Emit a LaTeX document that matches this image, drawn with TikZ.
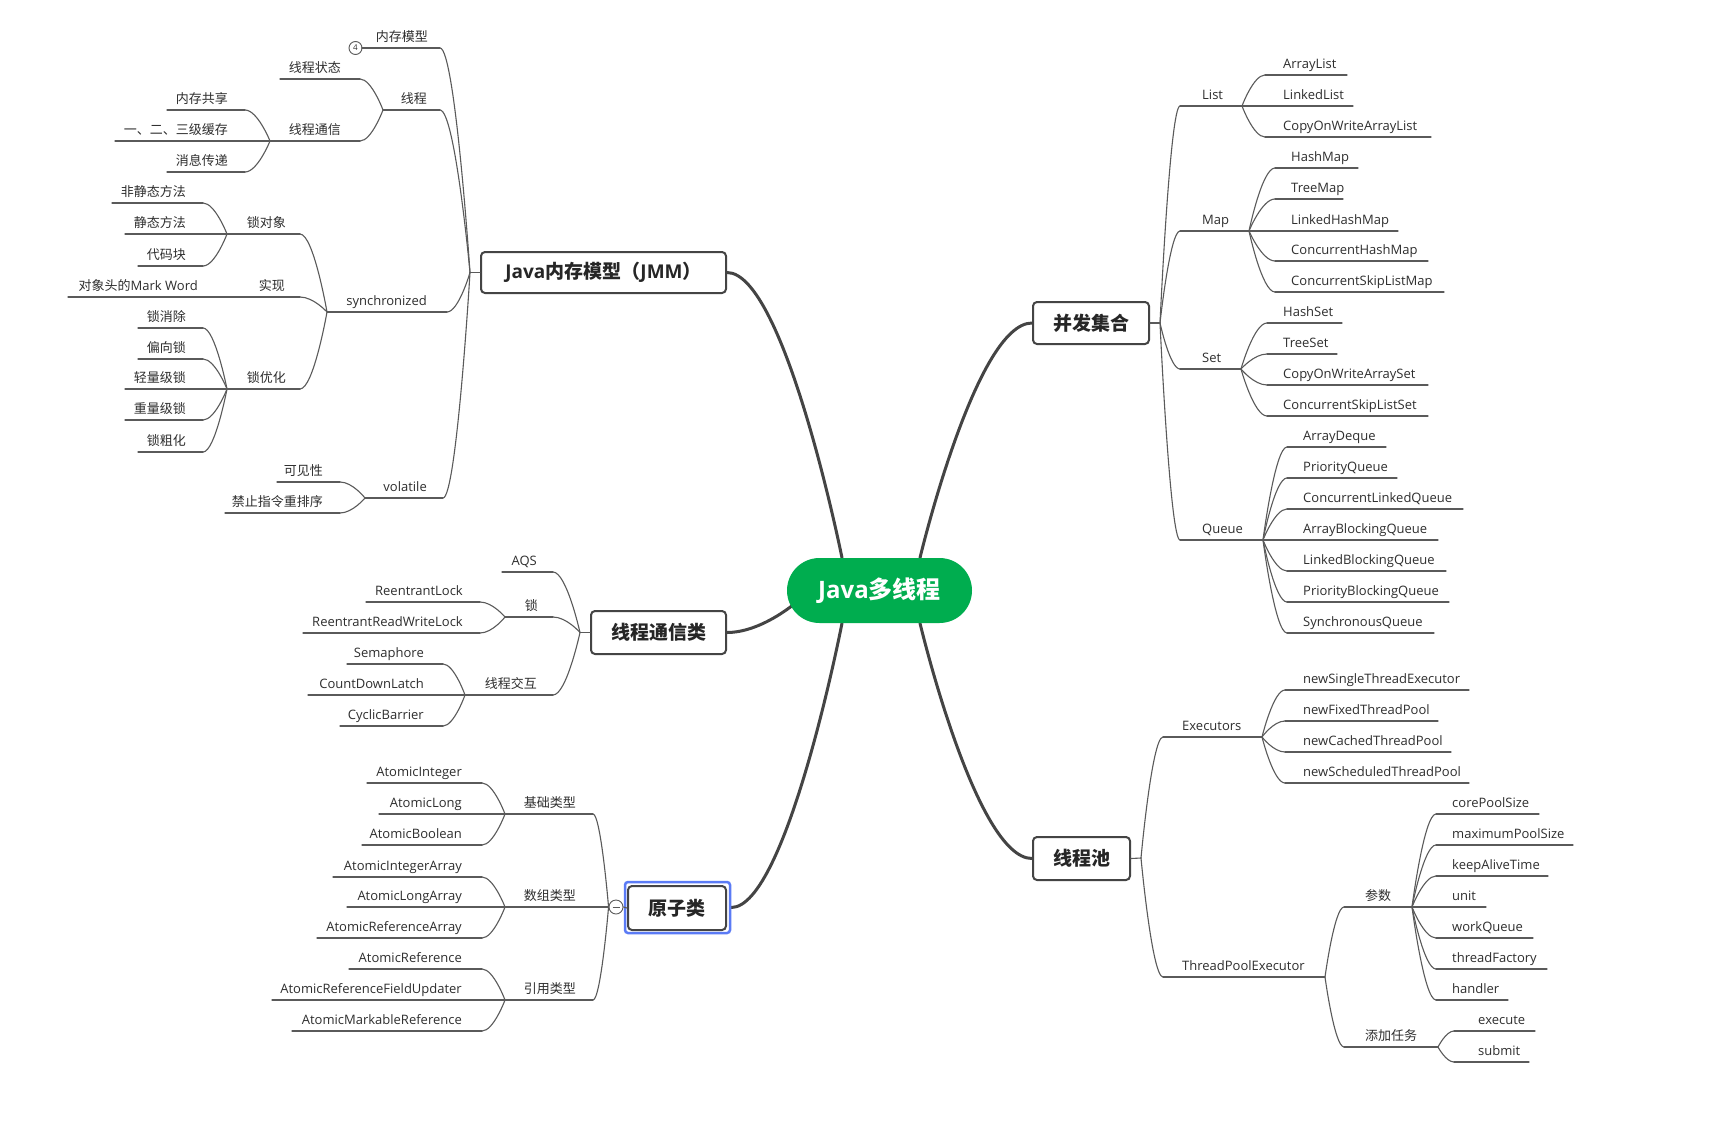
\documentclass[tikz,border=0pt]{standalone}
\usepackage{fontspec}
\setmainfont{Open Sans}
\newfontfamily\zh{Noto Sans CJK SC}
\usetikzlibrary{calc,backgrounds}

\definecolor{ink}{HTML}{2E2E2E}
\definecolor{branch}{HTML}{5A5A5A}
\definecolor{trunk}{HTML}{444444}
\definecolor{rootgreen}{HTML}{00AD4F}
\definecolor{selblue}{HTML}{5B7BF5}

\tikzset{
  uline/.style={draw=branch, line width=1.1pt, line cap=round},
  twig/.style={draw=branch, line width=1.1pt, line cap=round},
  trunkline/.style={draw=trunk, line width=3pt, line cap=round},
  lbl/.style={inner sep=0pt, text=ink, font=\fontsize{13}{15}\selectfont},
  topic/.style={draw=trunk, line width=2pt, rounded corners=4pt, fill=white,
    text=black!85, inner sep=0pt, font=\fontsize{19}{22}\selectfont\bfseries},
  rootnode/.style={fill=rootgreen, text=white, rounded corners=32.5pt, inner sep=0pt,
    minimum width=185pt, minimum height=65pt, font=\fontsize{24}{28}\selectfont\bfseries},
  selbox/.style={draw=selblue, line width=2.5pt, rounded corners=3pt, inner sep=0pt},
  knob/.style={circle, draw=branch, line width=0.9pt, fill=white, inner sep=0pt,
    minimum size=13pt, text=ink, font=\fontsize{8}{8}\selectfont},
}

% left-hand topic: outer end, inner end, underline y, text right edge, text
\newcommand\Lnode[6]{%
  \coordinate (#1-o) at (#2,#4);
  \coordinate (#1-i) at (#3,#4);
  \draw[uline] (#1-o) -- (#1-i);
  \node[lbl, anchor=base east] (#1) at (#5,#4-6.5) {#6};}
% right-hand topic: inner end, outer end, underline y, text left edge, text
\newcommand\Rnode[6]{%
  \coordinate (#1-i) at (#2,#4);
  \coordinate (#1-o) at (#3,#4);
  \draw[uline] (#1-i) -- (#1-o);
  \node[lbl, anchor=base west] (#1) at (#5,#4-6.5) {#6};}
% curved connector from a parent's hub to a child's inner end
\newcommand\twig[3][twig]{%
  \draw[#1] let \p1=(#2), \p2=(#3) in
    (\p1) .. controls (\p1) and ({0.5*\x1+0.5*\x2},\y2) .. (\p2);}

\begin{document}
\begin{tikzpicture}[x=1pt,y=-1pt]
\useasboundingbox (0,0) rectangle (1732,1130);
\begin{scope}[on background layer]
  \fill[white] (0,0) rectangle (1732,1130);
\end{scope}

% ---------- central topic and main topics ----------
\node[rootnode] (root) at (879.5,590.5) {Java{\zh 多线程}};
\node[topic, minimum width=245pt, minimum height=41pt] (jmm) at (603.5,272.5) {Java{\zh 内存模型（}JMM{\zh ）}};
\node[topic, minimum width=135pt, minimum height=43pt] (xt) at (658.5,632.5) {\zh 线程通信类};
\node[topic, minimum width=98pt, minimum height=44pt] (yz) at (677,908) {\zh 原子类};
\node[selbox, minimum width=105pt, minimum height=51pt] (yzsel) at (677.5,907.5) {};
\node[topic, minimum width=116pt, minimum height=42pt] (bf) at (1091,323) {\zh 并发集合};
\node[topic, minimum width=97pt, minimum height=43pt] (xcc) at (1081.5,858.5) {\zh 线程池};

\coordinate (r-jmm) at ($(root.north)+(-37.5,0)$);
\coordinate (r-bf)  at ($(root.north)+(40.5,0)$);
\coordinate (r-yz)  at ($(root.south)+(-37.5,0)$);
\coordinate (r-xcc) at ($(root.south)+(40.5,0)$);
\coordinate (r-xt)  at ($(root.center)+(-86,14)$);

\begin{scope}[on background layer]
  \twig[trunkline]{r-jmm}{jmm.east}
  \twig[trunkline]{r-bf}{bf.west}
  \twig[trunkline]{r-yz}{yzsel.east}
  \twig[trunkline]{r-xcc}{xcc.west}
  \twig[trunkline]{r-xt}{xt.east}
\end{scope}

% ---------- Java memory model ----------
\coordinate (jmmhub) at (470,272.5);
\draw[uline] (jmmhub) -- (jmm.west);
\node[knob] (n4) at (355.5,48) {4};
\Lnode{mm}{362}{440}{48}{428}{\zh 内存模型}
\Lnode{xc}{383}{440}{110}{427}{\zh 线程}
\Lnode{xczt}{280}{360}{79}{341}{\zh 线程状态}
\Lnode{xctx}{270}{360}{141}{341}{\zh 线程通信}
\Lnode{ncgx}{167}{245}{110}{228}{\zh 内存共享}
\Lnode{hc}{115}{245}{141}{228}{\zh 一、二、三级缓存}
\Lnode{xxcd}{167}{245}{172}{228}{\zh 消息传递}
\Lnode{sync}{327}{447}{312}{427}{synchronized}
\Lnode{sdx}{227}{300}{234}{286}{\zh 锁对象}
\Lnode{fjt}{112}{203}{203}{186}{\zh 非静态方法}
\Lnode{jt}{125}{203}{234}{186}{\zh 静态方法}
\Lnode{dmk}{138}{203}{266}{186}{\zh 代码块}
\Lnode{sx}{227}{300}{297}{285}{\zh 实现}
\Lnode{mw}{68}{227}{297}{198}{{\zh 对象头的}Mark Word}
\Lnode{syh}{227}{300}{389}{286}{\zh 锁优化}
\Lnode{sxc}{138}{203}{328}{186}{\zh 锁消除}
\Lnode{pxs}{138}{203}{359}{186}{\zh 偏向锁}
\Lnode{qlj}{125}{203}{389}{186}{\zh 轻量级锁}
\Lnode{zlj}{125}{203}{420}{186}{\zh 重量级锁}
\Lnode{scz}{138}{203}{452}{186}{\zh 锁粗化}
\Lnode{vol}{365}{443}{498}{427}{volatile}
\Lnode{kjx}{277}{340}{482}{323}{\zh 可见性}
\Lnode{jz}{225}{340}{513}{323}{\zh 禁止指令重排序}
\draw[uline] (n4.east) -- (mm-o);
\twig{jmmhub}{mm-i}
\twig{jmmhub}{xc-i}
\twig{jmmhub}{sync-i}
\twig{jmmhub}{vol-i}
\twig{xc-o}{xczt-i}
\twig{xc-o}{xctx-i}
\twig{xctx-o}{ncgx-i}
\twig{xctx-o}{hc-i}
\twig{xctx-o}{xxcd-i}
\twig{sync-o}{sdx-i}
\twig{sync-o}{sx-i}
\twig{sync-o}{syh-i}
\twig{sdx-o}{fjt-i}
\twig{sdx-o}{jt-i}
\twig{sdx-o}{dmk-i}
\twig{sx-o}{mw-i}
\twig{syh-o}{sxc-i}
\twig{syh-o}{pxs-i}
\twig{syh-o}{qlj-i}
\twig{syh-o}{zlj-i}
\twig{syh-o}{scz-i}
\twig{vol-o}{kjx-i}
\twig{vol-o}{jz-i}

% ---------- thread communication classes ----------
\coordinate (xthub) at (580,632.5);
\draw[uline] (xthub) -- (xt.west);
\Lnode{aqs}{502}{553}{572}{537}{AQS}
\Lnode{suo}{505}{553}{617}{538}{\zh 锁}
\Lnode{rl}{366}{480}{602}{463}{ReentrantLock}
\Lnode{rrwl}{303}{480}{633}{463}{ReentrantReadWriteLock}
\Lnode{xcjh}{465}{553}{695}{537}{\zh 线程交互}
\Lnode{sem}{347}{443}{664}{424}{Semaphore}
\Lnode{cdl}{308}{443}{695}{424}{CountDownLatch}
\Lnode{cb}{340}{443}{726}{424}{CyclicBarrier}
\twig{xthub}{aqs-i}
\twig{xthub}{suo-i}
\twig{xthub}{xcjh-i}
\twig{suo-o}{rl-i}
\twig{suo-o}{rrwl-i}
\twig{xcjh-o}{sem-i}
\twig{xcjh-o}{cdl-i}
\twig{xcjh-o}{cb-i}

% ---------- atomic classes ----------
\node[knob, minimum size=14pt] (fold) at (616,907) {};
\draw[branch, line width=0.9pt] ($(fold.center)+(-3.5,0)$) -- ($(fold.center)+(3.5,0)$);
\draw[uline] (fold.east) -- (yz.west);
\coordinate (yzhub) at (fold.west);
\Lnode{jclx}{505}{593}{814}{576}{\zh 基础类型}
\Lnode{ai}{367}{482}{783}{462}{AtomicInteger}
\Lnode{al}{379}{482}{814}{462}{AtomicLong}
\Lnode{ab}{362}{482}{845}{462}{AtomicBoolean}
\Lnode{szlx}{505}{593}{907}{576}{\zh 数组类型}
\Lnode{aia}{333}{482}{877}{462}{AtomicIntegerArray}
\Lnode{ala}{347}{482}{907}{462}{AtomicLongArray}
\Lnode{ara}{317}{482}{938}{462}{AtomicReferenceArray}
\Lnode{yylx}{505}{593}{1000}{576}{\zh 引用类型}
\Lnode{ar}{349}{482}{969}{462}{AtomicReference}
\Lnode{arfu}{272}{482}{1000}{462}{AtomicReferenceFieldUpdater}
\Lnode{amr}{292}{482}{1031}{462}{AtomicMarkableReference}
\twig{yzhub}{jclx-i}
\twig{yzhub}{szlx-i}
\twig{yzhub}{yylx-i}
\twig{jclx-o}{ai-i}
\twig{jclx-o}{al-i}
\twig{jclx-o}{ab-i}
\twig{szlx-o}{aia-i}
\twig{szlx-o}{ala-i}
\twig{szlx-o}{ara-i}
\twig{yylx-o}{ar-i}
\twig{yylx-o}{arfu-i}
\twig{yylx-o}{amr-i}

% ---------- concurrent collections ----------
\coordinate (bfhub) at (1160,323);
\draw[uline] (bf.east) -- (bfhub);
\Rnode{list}{1180}{1242}{106}{1202}{List}
\Rnode{arraylist}{1265}{1347}{75}{1283}{ArrayList}
\Rnode{linkedlist}{1265}{1353}{106}{1283}{LinkedList}
\Rnode{cowal}{1265}{1431}{137}{1283}{CopyOnWriteArrayList}
\Rnode{map}{1180}{1249}{231}{1202}{Map}
\Rnode{hashmap}{1275}{1358}{168}{1291}{HashMap}
\Rnode{treemap}{1275}{1343}{199}{1291}{TreeMap}
\Rnode{lhm}{1275}{1398}{231}{1291}{LinkedHashMap}
\Rnode{chm}{1275}{1428}{261}{1291}{ConcurrentHashMap}
\Rnode{cslm}{1275}{1444}{292}{1291}{ConcurrentSkipListMap}
\Rnode{set}{1180}{1241}{369}{1202}{Set}
\Rnode{hashset}{1267}{1342}{323}{1283}{HashSet}
\Rnode{treeset}{1267}{1337}{354}{1283}{TreeSet}
\Rnode{cowas}{1267}{1428}{385}{1283}{CopyOnWriteArraySet}
\Rnode{csls}{1267}{1428}{416}{1283}{ConcurrentSkipListSet}
\Rnode{queue}{1180}{1263}{540}{1202}{Queue}
\Rnode{ad}{1287}{1386}{447}{1303}{ArrayDeque}
\Rnode{pq}{1287}{1397}{478}{1303}{PriorityQueue}
\Rnode{clq}{1287}{1463}{509}{1303}{ConcurrentLinkedQueue}
\Rnode{abq}{1287}{1438}{540}{1303}{ArrayBlockingQueue}
\Rnode{lbq}{1287}{1446}{571}{1303}{LinkedBlockingQueue}
\Rnode{pbq}{1287}{1449}{602}{1303}{PriorityBlockingQueue}
\Rnode{sq}{1287}{1434}{633}{1303}{SynchronousQueue}
\twig{bfhub}{list-i}
\twig{bfhub}{map-i}
\twig{bfhub}{set-i}
\twig{bfhub}{queue-i}
\twig{list-o}{arraylist-i}
\twig{list-o}{linkedlist-i}
\twig{list-o}{cowal-i}
\twig{map-o}{hashmap-i}
\twig{map-o}{treemap-i}
\twig{map-o}{lhm-i}
\twig{map-o}{chm-i}
\twig{map-o}{cslm-i}
\twig{set-o}{hashset-i}
\twig{set-o}{treeset-i}
\twig{set-o}{cowas-i}
\twig{set-o}{csls-i}
\twig{queue-o}{ad-i}
\twig{queue-o}{pq-i}
\twig{queue-o}{clq-i}
\twig{queue-o}{abq-i}
\twig{queue-o}{lbq-i}
\twig{queue-o}{pbq-i}
\twig{queue-o}{sq-i}

% ---------- thread pool ----------
\coordinate (xcchub) at (1141,858);
\draw[uline] (xcc.east) -- (xcchub);
\Rnode{exec}{1163}{1262}{737}{1182}{Executors}
\Rnode{nste}{1285}{1469}{690}{1303}{newSingleThreadExecutor}
\Rnode{nftp}{1285}{1438}{721}{1303}{newFixedThreadPool}
\Rnode{nctp}{1285}{1451}{752}{1303}{newCachedThreadPool}
\Rnode{nstp}{1285}{1469}{783}{1303}{newScheduledThreadPool}
\Rnode{tpe}{1163}{1325}{977}{1182}{ThreadPoolExecutor}
\Rnode{cs}{1344}{1412}{907}{1365}{\zh 参数}
\Rnode{cps}{1436}{1539}{814}{1452}{corePoolSize}
\Rnode{mps}{1436}{1573}{845}{1452}{maximumPoolSize}
\Rnode{kat}{1436}{1548}{876}{1452}{keepAliveTime}
\Rnode{unt}{1436}{1486}{907}{1452}{unit}
\Rnode{wq}{1436}{1533}{938}{1452}{workQueue}
\Rnode{tf}{1436}{1547}{969}{1452}{threadFactory}
\Rnode{hd}{1436}{1508}{1000}{1452}{handler}
\Rnode{tjrw}{1344}{1438}{1047}{1365}{\zh 添加任务}
\Rnode{execute}{1454}{1535}{1031}{1478}{execute}
\Rnode{submit}{1454}{1529}{1062}{1478}{submit}
\twig{xcchub}{exec-i}
\twig{xcchub}{tpe-i}
\twig{exec-o}{nste-i}
\twig{exec-o}{nftp-i}
\twig{exec-o}{nctp-i}
\twig{exec-o}{nstp-i}
\twig{tpe-o}{cs-i}
\twig{tpe-o}{tjrw-i}
\twig{cs-o}{cps-i}
\twig{cs-o}{mps-i}
\twig{cs-o}{kat-i}
\twig{cs-o}{unt-i}
\twig{cs-o}{wq-i}
\twig{cs-o}{tf-i}
\twig{cs-o}{hd-i}
\twig{tjrw-o}{execute-i}
\twig{tjrw-o}{submit-i}
\end{tikzpicture}
\end{document}
